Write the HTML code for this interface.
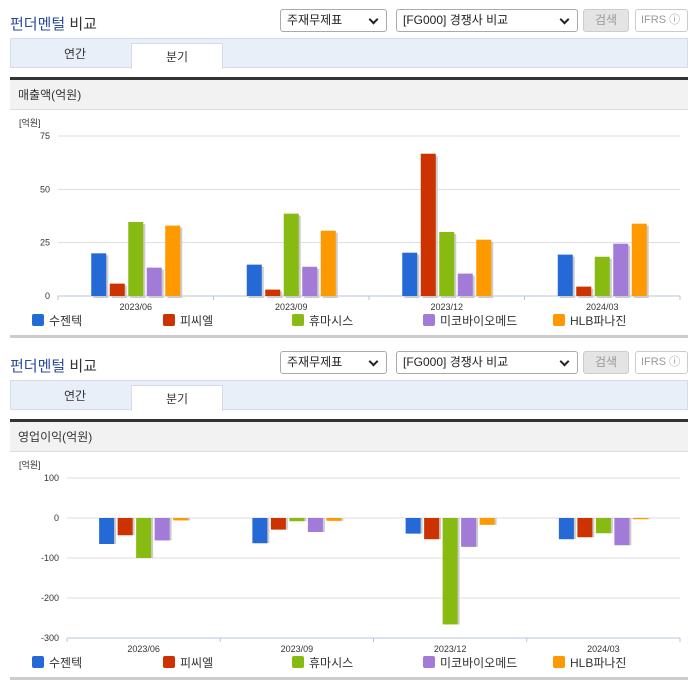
<!DOCTYPE html>
<html><head><meta charset="utf-8">
<style>
*{box-sizing:border-box;margin:0;padding:0}
body{width:696px;height:684px;background:#fff;font-family:"Liberation Sans","Noto Sans CJK KR",sans-serif;position:relative;overflow:hidden;color:#333}
.abs{position:absolute}
.title{font-size:15px;font-weight:normal;color:#333}
.title b{color:#2b4b9b;font-weight:normal}
.sel{border:1px solid #aaa;border-radius:3px;background:#fff;font-size:12px;height:23px;line-height:21px;padding-left:6px;color:#222}
.sel:after{content:"";position:absolute;right:9px;top:6px;width:5px;height:5px;border-right:2px solid #222;border-bottom:2px solid #222;transform:rotate(45deg)}
.btn{border:1px solid #ccc;border-radius:3px;background:#e4e4e4;color:#999;font-size:12px;text-align:center;height:23px;line-height:21px}
.ifrs{border:1px solid #ccc;border-radius:3px;background:#fff;color:#999;font-size:11px;height:23px;line-height:21px;padding-left:5px}
.tabs{background:#e9eff8;border:1px solid #d5dce8;height:30px}
.tab{font-size:12px;text-align:center;line-height:28px}
.tabon{background:#fff;border:1px solid #d5dce8;border-bottom:none;line-height:26px}
.dark{background:#333;height:3px}
.hdr{background:#f2f2f2;font-size:12px;line-height:30px;padding-left:8px;border-bottom:1px solid #ddd}
.bot{background:#ccc;height:3px}
</style></head><body>

<div class="abs title" style="left:10px;top:13px"><b>펀더멘털</b> 비교</div>
<div class="abs sel" style="left:280px;top:9px;width:107px">주재무제표</div>
<div class="abs sel" style="left:396px;top:9px;width:182px">[FG000] 경쟁사 비교</div>
<div class="abs btn" style="left:583px;top:9px;width:46px">검색</div>
<div class="abs ifrs" style="left:635px;top:9px;width:53px">IFRS ⓘ</div>
<div class="abs tabs" style="left:10px;top:38px;width:678px"></div>
<div class="abs tab" style="left:20px;top:40px;width:110px">연간</div>
<div class="abs tab tabon" style="left:131px;top:43px;width:92px;height:26px">분기</div>
<div class="abs dark" style="left:10px;top:77px;width:678px"></div>
<div class="abs hdr" style="left:10px;top:80px;width:678px;height:30px">매출액(억원)</div>
<svg class="abs" id="c1" style="left:0;top:110px" width="696" height="225"></svg>
<div class="abs bot" style="left:10px;top:335px;width:678px"></div>

<div class="abs title" style="left:10px;top:355px"><b>펀더멘털</b> 비교</div>
<div class="abs sel" style="left:280px;top:351px;width:107px">주재무제표</div>
<div class="abs sel" style="left:396px;top:351px;width:182px">[FG000] 경쟁사 비교</div>
<div class="abs btn" style="left:583px;top:351px;width:46px">검색</div>
<div class="abs ifrs" style="left:635px;top:351px;width:53px">IFRS ⓘ</div>
<div class="abs tabs" style="left:10px;top:380px;width:678px"></div>
<div class="abs tab" style="left:20px;top:382px;width:110px">연간</div>
<div class="abs tab tabon" style="left:131px;top:385px;width:92px;height:26px">분기</div>
<div class="abs dark" style="left:10px;top:419px;width:678px"></div>
<div class="abs hdr" style="left:10px;top:422px;width:678px;height:30px">영업이익(억원)</div>
<svg class="abs" id="c2" style="left:0;top:452px" width="696" height="225"></svg>
<div class="abs bot" style="left:10px;top:677px;width:678px"></div>

<script>
const categories = ["2023/06","2023/09","2023/12","2024/03"];
const seriesNames = ["수젠텍","피씨엘","휴마시스","미코바이오메드","HLB파나진"];
const seriesColors = ["#2469d6","#cc3300","#88bb11","#a27ad8","#ff9900"];
const revSugentech = [20,14.7,20.3,19.4];
const revPcl = [5.8,3,66.7,4.4];
const revHumasis = [34.7,38.6,30,18.4];
const revMico = [13.3,13.7,10.5,24.5];
const revHlb = [33,30.6,26.4,33.9];
const revTicks = [0,25,50,75];
const opSugentech = [-65,-63,-39,-53];
const opPcl = [-43,-29,-53,-48];
const opHumasis = [-100,-8,-266,-38];
const opMico = [-56,-35,-72,-68];
const opHlb = [-6,-7,-17,-3];
const opTicks = [-300,-200,-100,0,100];

const NS="http://www.w3.org/2000/svg";
function mk(svg,tag,attrs){const e=document.createElementNS(NS,tag);for(const k in attrs)e.setAttribute(k,attrs[k]);svg.appendChild(e);return e;}

function draw(id,series,ticks,x0,x1,yTop,yBot,prefix){
  const svg=document.getElementById(id);
  const tMin=ticks[0],tMax=ticks[ticks.length-1];
  const y=v=>yBot-(v-tMin)/(tMax-tMin)*(yBot-yTop);
  const bw=(x1-x0)/categories.length;
  const xc=i=>x0+bw*(i+0.5);
  const u=mk(svg,'text',{x:19,y:16,'font-size':9,fill:'#333'});u.textContent='[억원]';
  
  
  ticks.forEach(t=>{
    const l=mk(svg,'line',{x1:x0,x2:x1,y1:y(t),y2:y(t),stroke:'#ddd','stroke-width':1});
    
    
    const tx=mk(svg,'text',{x:x0-8,y:y(t)+3,'font-size':9,'text-anchor':'end',fill:'#333'});
    tx.textContent=t;
    
    
  });
  const ax=mk(svg,'line',{x1:x0,x2:x1,y1:yBot,y2:yBot,stroke:'#b8c4d8'});
  
  
  for(let i=0;i<=categories.length;i++){
    const tk=mk(svg,'line',{x1:x0+bw*i,x2:x0+bw*i,y1:yBot,y2:yBot+4,stroke:'#b8c4d8'});
    
    
  }
  const step=18.5,w=15;
  categories.forEach((c,i)=>{
    series.forEach((s,j)=>{
      const v=s[i];
      const bx=xc(i)+(j-2)*step-w/2;
      const ya=Math.min(y(v),y(0)),yb=Math.max(y(v),y(0));
      const sh=mk(svg,'rect',{x:bx+2,y:ya+(v>=0?2:0),width:w,height:Math.max(yb-ya,1),fill:'#ccc'});
      
      
      const r=mk(svg,'rect',{x:bx,y:ya,width:w,height:Math.max(yb-ya,1),fill:seriesColors[j]});
      
      
    });
    const lb=mk(svg,'text',{x:xc(i),y:yBot+14,'font-size':9,'text-anchor':'middle',fill:'#333'});
    lb.textContent=c;
    
    
  });
  const lx=[32,163,292,423,553];
  seriesNames.forEach((n,j)=>{
    const r=mk(svg,'rect',{x:lx[j],y:yBot+18,width:12,height:12,rx:2,fill:seriesColors[j]});
    
    
    const t=mk(svg,'text',{x:lx[j]+17,y:yBot+29,'font-size':12,fill:'#333'});
    t.textContent=n;
    
    
  });
}
draw('c1',[revSugentech,revPcl,revHumasis,revMico,revHlb],revTicks,58,680,26,186,'revenue');
draw('c2',[opSugentech,opPcl,opHumasis,opMico,opHlb],opTicks,67,680,26,186,'op');
</script>
</body></html>
